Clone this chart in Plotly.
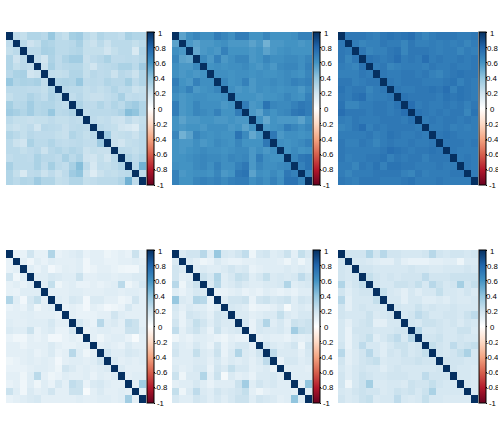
"""Six correlation heatmaps with RdBu colour bars."""

import plotly.graph_objects as go

W, H = 498, 436

TICK_VALS = [1, 0.8, 0.6, 0.4, 0.2, 0, -0.2, -0.4, -0.6, -0.8, -1]
TICK_TEXT = ["1", "0.8", "0.6", "0.4", "0.2", "0", "-0.2", "-0.4", "-0.6", "-0.8", "-1"]

RDBU = [
    [0.0, "#67001F"], [0.1, "#B2182B"], [0.2, "#D6604D"], [0.3, "#F4A582"],
    [0.4, "#FDDBC7"], [0.5, "#FFFFFF"], [0.6, "#D1E5F0"], [0.7, "#92C5DE"],
    [0.8, "#4393C3"], [0.9, "#2166AC"], [1.0, "#053061"],
]

# upper triangles (diagonal is 1 everywhere)
PANEL_1 = [
    [.26, .24, .30, .30, .28, .38, .27, .24, .34, .36, .27, .24, .30, .27, .27, .25, .33, .30, .30],
    [.27, .21, .24, .32, .30, .27, .27, .28, .33, .24, .22, .27, .22, .27, .27, .27, .24, .27],
    [.27, .27, .33, .32, .27, .27, .29, .30, .24, .24, .24, .20, .24, .27, .27, .17, .30],
    [.25, .20, .31, .26, .31, .35, .35, .23, .26, .28, .32, .26, .26, .27, .26, .29],
    [.22, .33, .26, .28, .29, .29, .24, .20, .26, .27, .28, .32, .32, .27, .36],
    [.25, .24, .25, .30, .30, .24, .28, .26, .27, .22, .28, .26, .22, .30],
    [.30, .31, .30, .38, .26, .27, .26, .30, .28, .28, .34, .26, .30],
    [.28, .27, .27, .24, .26, .24, .26, .30, .26, .27, .22, .24],
    [.25, .28, .24, .23, .23, .25, .27, .33, .25, .26, .25],
    [.31, .26, .26, .30, .26, .30, .27, .33, .36, .30],
    [.25, .27, .27, .27, .28, .31, .43, .40, .30],
    [.26, .24, .25, .22, .21, .26, .22, .24],
    [.27, .25, .24, .20, .18, .15, .25],
    [.36, .23, .24, .25, .22, .27],
    [.23, .20, .24, .25, .27],
    [.27, .26, .24, .27],
    [.30, .26, .30],
    [.27, .48],
    [.26],
]

PANEL_2 = [
    [.54, .62, .66, .62, .62, .70, .66, .62, .70, .70, .60, .60, .66, .60, .60, .60, .62, .68, .68],
    [.58, .54, .58, .58, .60, .62, .58, .58, .58, .54, .58, .48, .58, .58, .60, .60, .58, .60],
    [.52, .58, .60, .58, .68, .60, .60, .60, .58, .60, .54, .58, .60, .62, .60, .60, .60],
    [.64, .58, .68, .58, .62, .66, .66, .58, .60, .66, .62, .62, .64, .64, .62, .66],
    [.60, .62, .60, .62, .62, .64, .60, .58, .62, .58, .64, .66, .66, .62, .68],
    [.62, .62, .60, .62, .62, .60, .62, .60, .60, .62, .64, .62, .60, .66],
    [.66, .60, .62, .68, .58, .62, .62, .64, .62, .64, .68, .66, .68],
    [.62, .58, .60, .58, .62, .60, .62, .60, .62, .62, .58, .64],
    [.60, .60, .60, .58, .60, .60, .62, .66, .62, .60, .68],
    [.70, .58, .60, .74, .66, .64, .64, .68, .72, .70],
    [.58, .54, .64, .60, .64, .66, .72, .74, .70],
    [.60, .52, .60, .58, .58, .58, .54, .62],
    [.58, .60, .62, .70, .66, .62, .66],
    [.72, .58, .62, .62, .60, .62],
    [.62, .60, .62, .64, .68],
    [.60, .64, .60, .62],
    [.66, .72, .74],
    [.68, .74],
    [.66],
]

PANEL_3 = [
    [.72, .72, .72, .70, .68, .72, .74, .72, .74, .76, .70, .66, .70, .72, .72, .72, .70, .70, .72],
    [.70, .66, .68, .68, .72, .70, .70, .66, .72, .68, .68, .70, .68, .70, .68, .70, .66, .70],
    [.72, .66, .68, .68, .72, .74, .66, .72, .72, .72, .70, .68, .70, .70, .66, .70, .68],
    [.74, .72, .70, .72, .76, .70, .72, .70, .76, .70, .72, .70, .70, .72, .70, .72],
    [.70, .72, .66, .68, .70, .70, .70, .68, .72, .70, .70, .72, .70, .70, .72],
    [.72, .70, .70, .72, .72, .70, .72, .68, .66, .70, .72, .74, .72, .72],
    [.72, .70, .72, .72, .72, .70, .70, .70, .72, .74, .68, .72, .70],
    [.72, .70, .70, .72, .72, .74, .72, .76, .68, .74, .72, .70],
    [.74, .72, .72, .72, .72, .70, .74, .72, .74, .72, .70],
    [.76, .70, .72, .70, .70, .72, .70, .72, .68, .72],
    [.74, .72, .70, .72, .70, .72, .72, .66, .74],
    [.70, .72, .70, .72, .72, .70, .72, .70],
    [.70, .70, .72, .68, .70, .68, .70],
    [.72, .74, .72, .70, .70, .70],
    [.72, .72, .72, .70, .72],
    [.72, .70, .70, .70],
    [.70, .72, .70],
    [.72, .70],
    [.70],
]

PANEL_4 = [
    [.10, .10, .20, .11, .11, .30, .10, .12, .14, .16, .10, .12, .12, .08, .10, .12, .10, .22, .10],
    [.12, .07, .13, .10, .14, .12, .12, .12, .14, .07, .12, .12, .10, .10, .12, .12, .14, .12],
    [.14, .10, .14, .06, .10, .13, .12, .14, .07, .09, .12, .12, .10, .08, .07, .07, .14],
    [.14, .14, .18, .16, .14, .14, .22, .12, .12, .14, .14, .12, .14, .14, .16, .16],
    [.14, .24, .08, .12, .14, .10, .10, .12, .10, .12, .14, .27, .08, .12, .18],
    [.12, .12, .12, .14, .14, .12, .12, .12, .14, .14, .12, .14, .14, .12],
    [.14, .12, .18, .16, .06, .16, .16, .12, .12, .08, .10, .20, .12],
    [.10, .12, .10, .06, .12, .10, .06, .08, .10, .18, .12, .12],
    [.12, .10, .10, .10, .12, .12, .20, .14, .12, .12, .12],
    [.18, .12, .10, .28, .14, .16, .12, .25, .22, .12],
    [.10, .12, .14, .14, .12, .12, .22, .22, .14],
    [.12, .08, .12, .14, .14, .10, .04, .12],
    [.12, .14, .12, .10, .16, .12, .12],
    [.20, .14, .14, .18, .16, .14],
    [.16, .12, .14, .12, .14],
    [.16, .12, .12, .12],
    [.12, .14, .14],
    [.12, .35],
    [.12],
]

PANEL_5 = [
    [.16, .20, .20, .28, .14, .38, .18, .16, .20, .25, .08, .18, .20, .14, .16, .22, .12, .24, .18],
    [.16, .12, .08, .10, .16, .12, .10, .10, .12, .12, .14, .14, .14, .12, .08, .14, .08, .14],
    [.14, .16, .14, .14, .16, .20, .16, .18, .10, .12, .14, .14, .14, .16, .14, .16, .14],
    [.22, .18, .30, .14, .18, .24, .22, .14, .18, .24, .16, .18, .16, .18, .26, .20],
    [.16, .28, .14, .16, .20, .16, .14, .14, .16, .16, .18, .30, .14, .16, .18],
    [.10, .10, .12, .14, .10, .12, .10, .14, .12, .10, .12, .10, .14, .14],
    [.14, .20, .20, .22, .10, .20, .22, .18, .20, .22, .14, .20, .18],
    [.18, .16, .14, .08, .10, .10, .12, .16, .05, .14, .16, .14],
    [.16, .16, .12, .14, .16, .16, .24, .16, .14, .18, .18],
    [.18, .10, .18, .30, .14, .18, .12, .22, .20, .22],
    [.10, .18, .16, .16, .18, .14, .35, .24, .22],
    [.12, .14, .12, .12, .10, .14, .12, .14],
    [.20, .16, .14, .16, .20, .08, .20],
    [.26, .16, .16, .16, .12, .18],
    [.10, .18, .18, .14, .16],
    [.14, .14, .14, .12],
    [.14, .14, .14],
    [.12, .40],
    [.14],
]

PANEL_6 = [
    [.20, .20, .20, .30, .20, .28, .20, .20, .18, .18, .18, .20, .28, .20, .18, .20, .20, .18, .20],
    [.18, .18, .16, .14, .12, .12, .18, .12, .10, .10, .10, .12, .12, .14, .14, .08, .16, .16],
    [.20, .20, .18, .18, .18, .18, .18, .20, .18, .18, .16, .16, .18, .18, .18, .20, .18],
    [.24, .20, .18, .20, .18, .20, .20, .20, .26, .20, .20, .20, .22, .22, .22, .22],
    [.20, .18, .18, .22, .22, .20, .24, .18, .28, .22, .18, .20, .34, .20, .24],
    [.24, .18, .16, .12, .18, .14, .18, .18, .24, .18, .18, .16, .20, .16],
    [.18, .18, .12, .18, .18, .14, .14, .16, .14, .18, .16, .16, .18],
    [.20, .18, .18, .22, .18, .20, .18, .18, .20, .18, .18, .18],
    [.18, .20, .26, .22, .18, .18, .20, .20, .18, .22, .26],
    [.20, .18, .22, .22, .20, .18, .20, .16, .20, .18],
    [.28, .18, .18, .20, .18, .18, .22, .22, .16],
    [.20, .20, .22, .18, .18, .20, .18, .18],
    [.24, .20, .18, .26, .20, .22, .24],
    [.20, .18, .20, .24, .32, .18],
    [.20, .20, .20, .18, .18],
    [.20, .18, .18, .16],
    [.18, .18, .16],
    [.18, .16],
    [.16],
]

PANELS = [PANEL_1, PANEL_2, PANEL_3, PANEL_4, PANEL_5, PANEL_6]


def full_matrix(upper):
    """Mirror an upper triangle into a symmetric matrix with ones on the diagonal."""
    n = len(upper) + 1
    z = [[1.0] * n for _ in range(n)]
    for i, row in enumerate(upper):
        for k, v in enumerate(row):
            z[i][i + 1 + k] = v
            z[i + 1 + k][i] = v
    return z


fig = go.Figure()
layout = {}
labels = []

for idx, upper in enumerate(PANELS):
    col, row = idx % 3, idx // 3
    left = 6 + col * 166
    top = 32 if row == 0 else 250
    right, bottom = left + 140, top + 153
    suffix = "" if idx == 0 else str(idx + 1)

    fig.add_trace(go.Heatmap(
        z=full_matrix(upper),
        xaxis=f"x{suffix}",
        yaxis=f"y{suffix}",
        coloraxis=f"coloraxis{suffix}",
        hoverongaps=False,
    ))
    layout[f"xaxis{suffix}"] = dict(
        domain=[left / W, right / W], visible=False, anchor=f"y{suffix}",
    )
    layout[f"yaxis{suffix}"] = dict(
        domain=[1 - bottom / H, 1 - top / H], visible=False, autorange="reversed",
        anchor=f"x{suffix}",
    )
    layout[f"coloraxis{suffix}"] = dict(
        colorscale=RDBU,
        cmin=-1,
        cmax=1,
        colorbar=dict(
            x=(right + 1) / W,
            xanchor="left",
            xpad=0,
            y=1 - bottom / H,
            yanchor="bottom",
            ypad=0,
            len=153 / H,
            thickness=7,
            outlinecolor="black",
            outlinewidth=1,
            tickmode="array",
            tickvals=TICK_VALS,
            ticktext=TICK_TEXT,
            ticks="outside",
            ticklen=1,
            tickwidth=1,
            tickcolor="black",
            showticklabels=False,
        ),
    )
    # colour bar labels are centred in the original, plotly only left-aligns them
    for val, text in zip(TICK_VALS, TICK_TEXT):
        labels.append(dict(
            x=(right + 14) / W,
            y=1 - (top + 1 + (1 - val) / 2 * 152) / H,
            xref="paper",
            yref="paper",
            text=text,
            showarrow=False,
            xanchor="center",
            yanchor="middle",
            font=dict(family="Liberation Sans, Arial, sans-serif", size=7.8, color="black"),
        ))

fig.update_layout(
    width=W,
    height=H,
    margin=dict(l=0, r=0, t=0, b=0, autoexpand=False),
    paper_bgcolor="white",
    plot_bgcolor="white",
    annotations=labels,
    **layout,
)

fig.write_html(
    "out.html",
    config={"displayModeBar": False},
    post_script="document.body.style.margin='0';",
)
